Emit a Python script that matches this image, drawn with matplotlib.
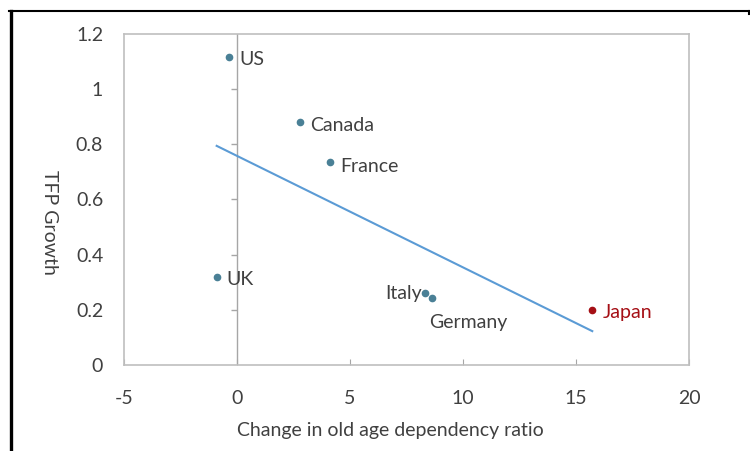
import numpy as np
import matplotlib
matplotlib.use("Agg")
import matplotlib.pyplot as plt
from matplotlib.lines import Line2D

countries = ["US", "UK", "Canada", "France", "Italy", "Germany", "Japan"]
dep_change = [-0.34, -0.9, 2.79, 4.1, 8.32, 8.63, 15.72]
tfp_growth = [1.116, 0.32, 0.882, 0.736, 0.26, 0.244, 0.2]
xticks = [-5, 0, 5, 10, 15, 20]
yticks = [0, 0.2, 0.4, 0.6, 0.8, 1.0, 1.2]
ytick_labels = ["0", "0.2", "0.4", "0.6", "0.8", "1", "1.2"]

plt.rcParams['font.family'] = ['Lato', 'DejaVu Sans']

fig = plt.figure(figsize=(7.5, 4.51), dpi=100)
ax = fig.add_axes([124/750, 1-365/451, (689-124)/750, (365-34)/451])

pt_col = "#4a8096"
jp_col = "#a50f15"
txt_col = "#404040"
grey = "#bfbfbf"
fs = 14

# scatter points
for c, x, y in zip(countries, dep_change, tfp_growth):
    col = jp_col if c == "Japan" else pt_col
    ax.plot(x, y, "o", color=col, ms=4.5, zorder=4)

# trend line (least squares)
slope, icpt = np.polyfit(dep_change, tfp_growth, 1)
xs = np.array([min(dep_change), max(dep_change)])
ax.plot(xs, slope*xs + icpt, color="#5b9bd5", lw=1.5, zorder=3)

# labels
offs = {"US": (0.45, -0.01, "left"), "UK": (0.45, -0.01, "left"), "Canada": (0.45, -0.015, "left"),
        "France": (0.45, -0.015, "left"), "Italy": (-0.15, 0.0, "right"),
        "Germany": (-0.15, -0.09, "left"), "Japan": (0.45, -0.01, "left")}
for c, x, y in zip(countries, dep_change, tfp_growth):
    dx, dy, ha = offs[c]
    col = jp_col if c == "Japan" else txt_col
    ax.text(x + dx, y + dy, c, ha=ha, va="center", fontsize=fs, color=col, zorder=5)

ax.set_xlim(-5, 20)
ax.set_ylim(0, 1.2)
ax.set_xticks(xticks)
ax.set_xticklabels([str(v) for v in xticks])
ax.set_yticks(yticks)
ax.set_yticklabels(ytick_labels)
ax.tick_params(axis="x", direction="in", length=4, color="#a6a6a6", labelsize=fs,
               labelcolor=txt_col, pad=18)
ax.tick_params(axis="y", length=0, labelsize=fs, labelcolor=txt_col, pad=15)
for s in ax.spines.values():
    s.set_color(grey)
    s.set_linewidth(1.2)

# vertical axis at x=0 with tick marks
ax.axvline(0, color="#a6a6a6", lw=1, zorder=1)
ax.plot([0]*len(yticks[1:-1]), yticks[1:-1], linestyle="none", marker=0,
        ms=4, color="#a6a6a6", mew=1, zorder=1)

ax.set_xlabel("Change in old age dependency ratio", fontsize=fs, color=txt_col)
ax.xaxis.set_label_coords(0.471, -0.197)
ax.xaxis.label.set_verticalalignment("center")
ax.set_ylabel("TFP Growth", fontsize=fs, color=txt_col, rotation=-90)
ax.yaxis.set_label_coords(-0.132, 0.43)
ax.yaxis.label.set_verticalalignment("center")

# outer frame
fig.add_artist(Line2D([10.5/750, 10.5/750], [0, 1-10.5/451], color="black", lw=2.4,
                      transform=fig.transFigure))
fig.add_artist(Line2D([9/750, 749/750], [1-10.5/451, 1-10.5/451], color="black", lw=1.5,
                      transform=fig.transFigure))
fig.add_artist(Line2D([749/750, 749/750], [1-10.5/451, 1-14/451], color="black", lw=1.5,
                      transform=fig.transFigure))

fig.savefig("out.png", dpi=100)
